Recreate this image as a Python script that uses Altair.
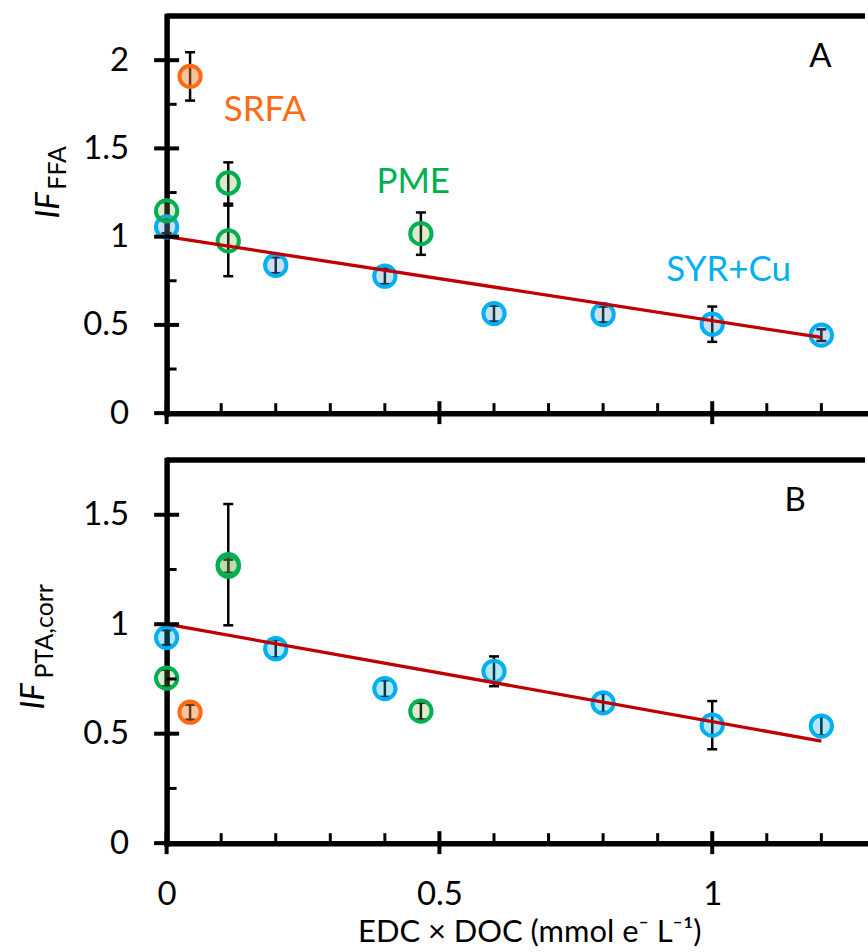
import altair as alt
import pandas as pd

FONT = "Lato"
W = 700
XMAX = 1.28
HA, HB = 398, 384
YMAX_A, YMAX_B = 2.25, 1.75

# tick values
x_major = [0, 0.5, 1]
x_minor = [0.1, 0.2, 0.3, 0.4, 0.6, 0.7, 0.8, 0.9, 1.1, 1.2]
a_y_major = [0, 0.5, 1, 1.5, 2]
a_y_minor = [0.25, 0.75, 1.25, 1.75]
b_y_major = [0, 0.5, 1, 1.5]
b_y_minor = [0.25, 0.75, 1.25]

# ---- Panel A : IF_FFA ----
a_syr_x = [0, 0.2, 0.4, 0.6, 0.8, 1.0, 1.2]
a_syr_y = [1.055, 0.838, 0.776, 0.564, 0.559, 0.504, 0.442]
a_syr_e = [0.035, 0.045, 0.045, 0.045, 0.045, 0.10, 0.033]
a_pme_x = [0, 0.113, 0.113, 0.466]
a_pme_y = [1.146, 1.304, 0.976, 1.017]
a_pme_e = [0.05, 0.117, 0.2, 0.12]
a_srfa_x = [0.043]
a_srfa_y = [1.908]
a_srfa_e = [0.137]
a_fit_x = [0, 1.2]
a_fit_y = [1.0, 0.429]

# ---- Panel B : IF_PTA,corr ----
b_syr_x = [0, 0.2, 0.4, 0.6, 0.8, 1.0, 1.2]
b_syr_y = [0.939, 0.888, 0.706, 0.785, 0.641, 0.539, 0.535]
b_syr_e = [0.034, 0.04, 0.038, 0.068, 0.042, 0.11, 0.042]
b_pme_x = [0, 0.113, 0.113, 0.466]
b_pme_y = [0.754, 1.272, 1.265, 0.603]
b_pme_e = [0.038, 0.277, 0.03, 0.038]
b_srfa_x = [0.043]
b_srfa_y = [0.598]
b_srfa_e = [0.034]
b_fit_x = [0, 1.2]
b_fit_y = [1.0, 0.466]

# annotations
a_ann_text = ["SRFA", "PME", "SYR+Cu", "A"]
a_ann_x = [0.18, 0.452, 1.03, 1.198]
a_ann_y = [1.716, 1.31, 0.81, 2.017]
a_ann_color = ["#FF6A13", "#00B050", "#00B0F0", "black"]
a_ann_size = [35, 35, 35, 33]
b_ann_text = ["B"]
b_ann_x = [1.152]
b_ann_y = [1.565]
b_ann_color = ["black"]
b_ann_size = [33]

ORANGE, GREEN, BLUE, RED = "#FF6A13", "#00B050", "#00B0F0", "#C00000"


def make_X(labels):
    def X(field):
        return alt.X(field, type="quantitative",
                     scale=alt.Scale(domain=[0, XMAX], nice=False, zero=False),
                     axis=alt.Axis(values=x_major, labels=labels, ticks=False, tickSize=0,
                                   grid=False, domainColor="black", domainWidth=5.5,
                                   domainCap="square", labelFont=FONT, labelFontSize=33,
                                   labelColor="black", labelPadding=35, labelFlush=False,
                                   labelOverlap=False, format="~g", title=None))
    return X


def make_Y(ymax, values):
    def Y(field):
        return alt.Y(field, type="quantitative",
                     scale=alt.Scale(domain=[0, ymax], nice=False, zero=False),
                     axis=alt.Axis(values=values, ticks=False, tickSize=0, grid=False,
                                   domainColor="black", domainWidth=5.5, domainCap="square",
                                   labelFont=FONT, labelFontSize=33, labelColor="black",
                                   labelPadding=38, labelOverlap=False, format="~g",
                                   title=None))
    return Y


def series(xs, ys, es, edge, fill, fop, X, Y):
    df = pd.DataFrame({"x": xs, "y": ys, "e": es})
    base = alt.Chart(df).transform_calculate(lo="datum.y - datum.e", hi="datum.y + datum.e")
    bar = base.mark_rule(color="black", strokeWidth=2.5).encode(x=X("x"), y=Y("lo"), y2="hi:Q")
    cap1 = base.mark_rule(color="black", strokeWidth=2.5, xOffset=-5, x2Offset=5).encode(
        x=X("x"), x2="x:Q", y=Y("lo"))
    cap2 = base.mark_rule(color="black", strokeWidth=2.5, xOffset=-5, x2Offset=5).encode(
        x=X("x"), x2="x:Q", y=Y("hi"))
    pts = base.mark_circle(size=455, fill=fill, fillOpacity=fop, stroke=edge,
                           strokeWidth=4, opacity=1).encode(x=X("x"), y=Y("y"))
    return [bar, cap1, cap2], pts


def panel(H, ymax, ymaj, ymin, labels, syr, pme, srfa, fit, ann, blue_fill, blue_op,
          title_main_xy, title_sub_xy, sub_text):
    X = make_X(labels)
    Y = make_Y(ymax, ymaj)
    bars = []
    pts = []
    for (xs, ys, es), edge, fill, fop in [
        (syr, BLUE, blue_fill, blue_op),
        (pme, GREEN, "#70AD47", 0.25),
        (srfa, ORANGE, "#ED7D31", 0.45),
    ]:
        b, p = series(xs, ys, es, edge, fill, fop, X, Y)
        bars += b
        pts.append(p)
    fit_df = pd.DataFrame({"x": fit[0], "y": fit[1]})
    line = alt.Chart(fit_df).mark_line(color=RED, strokeWidth=3.3).encode(x=X("x"), y=Y("y"))

    ann_df = pd.DataFrame({"x": ann[0], "y": ann[1], "t": ann[2], "c": ann[3], "s": ann[4]})
    txt = alt.Chart(ann_df).mark_text(font=FONT, align="center", baseline="middle").encode(
        x=X("x"), y=Y("y"), text="t:N", color=alt.Color("c:N", scale=None),
        size=alt.Size("s:Q", scale=None))

    # frame and ticks
    top = alt.Chart(pd.DataFrame({"k": [0]})).mark_rule(color="black", strokeWidth=5.5).encode(
        y=alt.value(0), x=alt.value(0), x2=alt.value(W))
    xmaj = alt.Chart(pd.DataFrame({"v": x_major})).mark_rule(color="black", strokeWidth=4).encode(
        x=X("v"), y=alt.value(H - 12), y2=alt.value(H + 11))
    xmin = alt.Chart(pd.DataFrame({"v": x_minor})).mark_rule(color="black", strokeWidth=3).encode(
        x=X("v"), y=alt.value(H - 10), y2=alt.value(H))
    ymj = alt.Chart(pd.DataFrame({"v": ymaj})).mark_rule(color="black", strokeWidth=4).encode(
        y=Y("v"), x=alt.value(-12.5), x2=alt.value(12.5))
    ymn = alt.Chart(pd.DataFrame({"v": ymin})).mark_rule(color="black", strokeWidth=3).encode(
        y=Y("v"), x=alt.value(0), x2=alt.value(10))

    t1 = alt.Chart(pd.DataFrame({"t": ["IF"]})).mark_text(
        font=FONT, fontSize=33, fontStyle="italic", angle=270, align="left",
        baseline="alphabetic", color="black").encode(
        text="t:N", x=alt.value(title_main_xy[0]), y=alt.value(title_main_xy[1]))
    t2 = alt.Chart(pd.DataFrame({"t": [sub_text]})).mark_text(
        font=FONT, fontSize=25, angle=270, align="left", baseline="alphabetic",
        color="black").encode(
        text="t:N", x=alt.value(title_sub_xy[0]), y=alt.value(title_sub_xy[1]))

    layers = bars + pts + [line, txt, top, xmaj, xmin, ymj, ymn, t1, t2]
    return alt.layer(*layers).properties(width=W, height=H)


pA = panel(HA, YMAX_A, a_y_major, a_y_minor, False,
           (a_syr_x, a_syr_y, a_syr_e), (a_pme_x, a_pme_y, a_pme_e),
           (a_srfa_x, a_srfa_y, a_srfa_e), (a_fit_x, a_fit_y),
           (a_ann_x, a_ann_y, a_ann_text, a_ann_color, a_ann_size),
           "#5B9BD5", 0.32, (-108, 203), (-101, 174), "FFA")

pB_core = panel(HB, YMAX_B, b_y_major, b_y_minor, True,
                (b_syr_x, b_syr_y, b_syr_e), (b_pme_x, b_pme_y, b_pme_e),
                (b_srfa_x, b_srfa_y, b_srfa_e), (b_fit_x, b_fit_y),
                (b_ann_x, b_ann_y, b_ann_text, b_ann_color, b_ann_size),
                "#00B0F0", 0.30, (-123, 250), (-114, 219), "PTA,corr")

xtitle = alt.Chart(pd.DataFrame({"t": ["EDC × DOC (mmol e\u207b L\u207b\u00b9)"]})).mark_text(
    font=FONT, fontSize=31, align="center", baseline="middle", color="black").encode(
    text="t:N", x=alt.value(364), y=alt.value(474))

pB = alt.layer(pB_core, xtitle).properties(width=W, height=HB)

chart = alt.vconcat(pA, pB, spacing=47, bounds="flush").resolve_scale(
    x="independent", y="independent").configure_view(stroke=None).properties(
    padding={"left": 18, "top": 12, "right": 0, "bottom": 0})

chart.save("out.html", embed_options={"renderer": "svg", "actions": False})
